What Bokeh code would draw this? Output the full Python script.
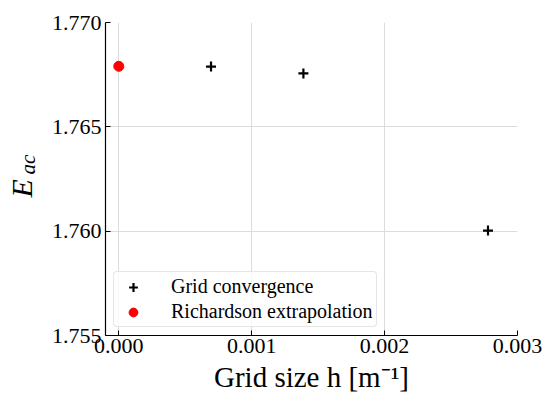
import math
from bokeh.plotting import figure
from bokeh.layouts import row
from bokeh.models import FixedTicker, PrintfTickFormatter, Label, Legend, LegendItem
from bokeh.embed import file_html
from bokeh.resources import INLINE

# data
grid_h = [0.000694, 0.001389, 0.002778]
grid_E = [1.76789, 1.76756, 1.76003]
rich_h = [0.0]
rich_E = [1.76790]
x_ticks = [0.0, 0.001, 0.002, 0.003]
y_ticks = [1.755, 1.760, 1.765, 1.770]

FONT = "Liberation Serif"
LEFT_W = 48

p = figure(width=543 - LEFT_W, height=398, output_backend="svg", toolbar_location=None,
           x_range=(-0.0001, 0.003), y_range=(1.755, 1.770),
           min_border_left=104 - LEFT_W, min_border_right=26, min_border_top=22, min_border_bottom=63)
p.outline_line_color = None
p.background_fill_color = "white"
p.border_fill_color = "white"

for ax in (p.xaxis, p.yaxis):
    ax.major_tick_in = 5
    ax.major_tick_out = 0
    ax.minor_tick_line_color = None
    ax.major_label_text_font = FONT
    ax.major_label_text_font_size = "22px"
    ax.major_label_text_color = "black"
    ax.axis_line_color = "black"
    ax.axis_line_width = 1.2
    ax.major_tick_line_color = "black"

p.xaxis.ticker = FixedTicker(ticks=x_ticks)
p.yaxis.ticker = FixedTicker(ticks=y_ticks)
p.xaxis.formatter = PrintfTickFormatter(format="%.3f")
p.yaxis.formatter = PrintfTickFormatter(format="%.3f")
p.xaxis.major_label_standoff = 3
p.yaxis.major_label_standoff = 4

p.xaxis.axis_label = "Grid size h [m\u207b\u00b9]"
p.xaxis.axis_label_text_font = FONT
p.xaxis.axis_label_text_font_size = "29px"
p.xaxis.axis_label_text_font_style = "normal"
p.xaxis.axis_label_text_color = "black"
p.xaxis.axis_label_standoff = 5

p.grid.grid_line_color = "#dcdcdc"
p.grid.grid_line_width = 1

r1 = p.scatter(grid_h, grid_E, marker="cross", size=10, line_width=2.2, line_color="black")
r2 = p.scatter(rich_h, rich_E, marker="circle", size=10, fill_color="red", line_color="red")

legend = Legend(items=[LegendItem(label="Grid convergence", renderers=[r1]),
                       LegendItem(label="Richardson extrapolation", renderers=[r2])],
                location="bottom_left")
legend.label_text_font = FONT
legend.label_text_font_size = "20px"
legend.label_text_color = "black"
legend.border_line_color = "#cccccc"
legend.border_radius = 4
legend.background_fill_alpha = 0.8
legend.margin = 8
legend.padding = 3
legend.spacing = 2
legend.label_height = 22
legend.glyph_height = 22
legend.glyph_width = 32
legend.label_standoff = 22
p.add_layout(legend)

# narrow panel holding the rotated y-axis label E_ac
q = figure(width=LEFT_W, height=398, output_backend="svg", toolbar_location=None,
           x_axis_type=None, y_axis_type=None, x_range=(0, 1), y_range=(0, 1),
           min_border=0, min_border_left=0, min_border_right=0,
           min_border_top=0, min_border_bottom=0)
q.outline_line_color = None
q.grid.visible = False
q.background_fill_color = "white"
q.border_fill_color = "white"

lab_E = Label(x=21, y=138, x_units="screen", y_units="screen", text="E",
              angle=math.pi / 2, text_font=FONT, text_font_style="italic",
              text_baseline="alphabetic",
              text_font_size="30px", text_color="black")
lab_ac = Label(x=27, y=161, x_units="screen", y_units="screen", text="ac",
               angle=math.pi / 2, text_font=FONT, text_font_style="italic",
               text_baseline="alphabetic",
               text_font_size="21px", text_color="black")
q.add_layout(lab_E)
q.add_layout(lab_ac)

layout = row(q, p, spacing=0)
open("out.html", "w").write(file_html(layout, INLINE))
